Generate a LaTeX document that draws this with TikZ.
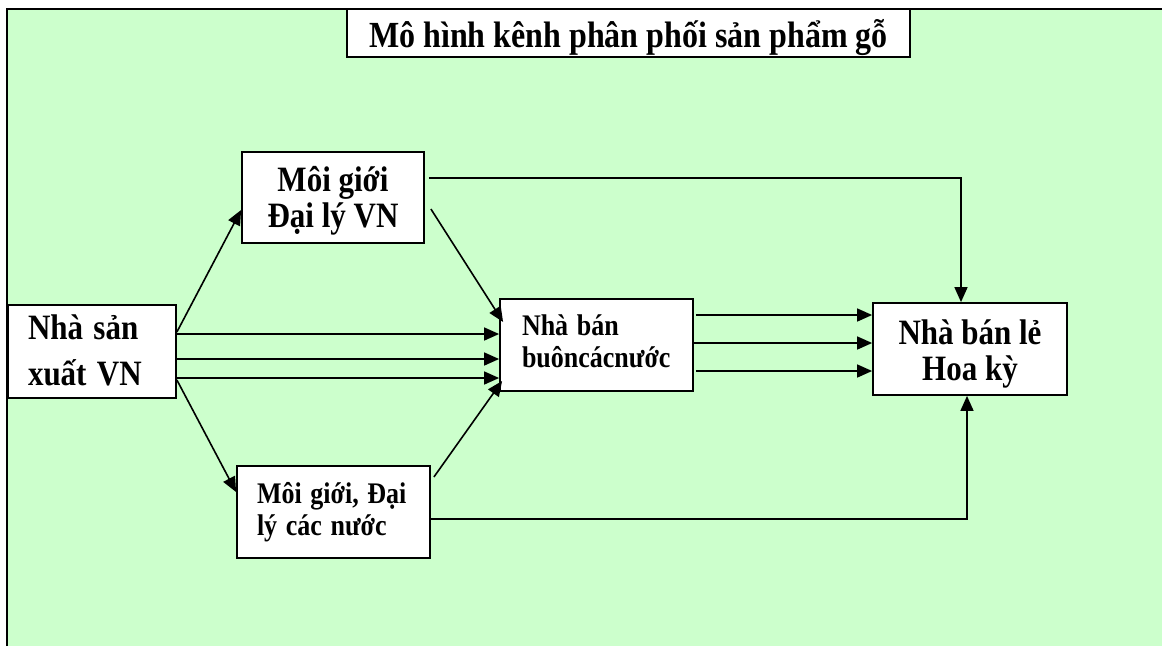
\documentclass[tikz,border=0pt]{standalone}
\usepackage{fontspec}
\usepackage{graphicx}
\setmainfont{Liberation Serif}
\usetikzlibrary{arrows.meta,calc}
\definecolor{bg}{HTML}{CCFFCC}
\newcommand\vstr[1]{\scalebox{1}[1.15]{#1}}
\begin{document}
\begin{tikzpicture}[x=1pt,y=-1pt,
  box/.style={draw,fill=white,line width=1.8pt,inner sep=0pt,text height=0pt},
  bigA/.style={font=\fontsize{31}{46}\selectfont\bfseries},
  bigB/.style={font=\fontsize{31}{36}\selectfont\bfseries},
  small/.style={font=\fontsize{26}{32}\selectfont\bfseries},
  arr/.style={line width=1.6pt,-{Triangle[length=15pt,width=13pt]}},
  ln/.style={line width=1.6pt}]
\useasboundingbox (0,0) rectangle (1162,646);
\fill[white] (0,0) rectangle (1162,646);
\fill[bg] (7,9) rectangle (1162,646);
\draw[line width=2pt] (7,646) -- (7,9) -- (1162,9);

\node[box,minimum width=563pt,minimum height=48pt,text height=28pt,text depth=0pt,
  font=\fontsize{32}{36}\selectfont\bfseries] (title) at (628.5,33) {\vstr{Mô hình kênh phân phối sản phẩm gỗ}};

\node[box,bigA,minimum width=168pt,minimum height=93pt,text width=128pt,align=left,text depth=25pt] (nsx) at (92,351.5) {\vstr{Nhà sản}\\\vstr{xuất VN}};
\node[box,bigB,minimum width=182pt,minimum height=91pt,align=center,text height=59pt,text depth=0pt] (mgvn) at (333,197.5) {\vstr{Môi giới}\\\vstr{Đại lý VN}};
\node[box,small,minimum width=193pt,minimum height=92pt,text width=149pt,align=left,text depth=20pt] (ws) at (596.5,345) {\vstr{Nhà bán}\\\vstr{buôncácnước}};
\node[box,small,minimum width=193pt,minimum height=92pt,text width=153pt,align=left,text depth=18pt] (mgcn) at (333.5,512) {\vstr{Môi giới, Đại}\\\vstr{lý các nước}};
\node[box,bigB,minimum width=194pt,minimum height=92pt,align=center,text height=62pt,text depth=0pt] (hk) at (970,349) {\vstr{Nhà bán lẻ}\\\vstr{Hoa kỳ}};

% producer -> brokers
\draw[arr] ([yshift=19.5pt]nsx.east) -- ([yshift=-12.5pt]mgvn.west);
\draw[arr] ([yshift=-28.5pt]nsx.east) -- ([yshift=20pt]mgcn.west);
% producer -> wholesale
\coordinate (a1) at ([yshift=17.5pt]nsx.east);
\coordinate (a2) at ([yshift=-7.5pt]nsx.east);
\coordinate (a3) at ([yshift=-26.5pt]nsx.east);
\draw[arr] (a1) -- (a1 -| ws.west);
\draw[arr] (a2) -- (a2 -| ws.west);
\draw[arr] (a3) -- (a3 -| ws.west);
% brokers -> wholesale
\draw[arr] ([xshift=6pt,yshift=-11.5pt]mgvn.east) -- ([xshift=4pt,yshift=23pt]ws.west);
\draw[arr] ([xshift=3pt,yshift=35pt]mgcn.east) -- ([xshift=3pt,yshift=-36pt]ws.west);
% wholesale -> retailer
\coordinate (b1) at ([xshift=2pt,yshift=30pt]ws.east);
\coordinate (b2) at ([yshift=2pt]ws.east);
\coordinate (b3) at ([xshift=2pt,yshift=-26pt]ws.east);
\draw[arr] (b1) -- (b1 -| hk.west);
\draw[arr] (b2) -- (b2 -| hk.west);
\draw[arr] (b3) -- (b3 -| hk.west);
% brokers -> retailer (direct)
\coordinate (m1) at ([xshift=4pt,yshift=19.5pt]mgvn.east);
\coordinate (c1) at ([xshift=-9pt]hk.north);
\draw[arr] (m1) -| (c1);
\coordinate (m2) at ([yshift=-7pt]mgcn.east);
\coordinate (c2) at ([xshift=-3pt]hk.south);
\draw[arr] (m2) -| (c2);
\end{tikzpicture}
\end{document}
